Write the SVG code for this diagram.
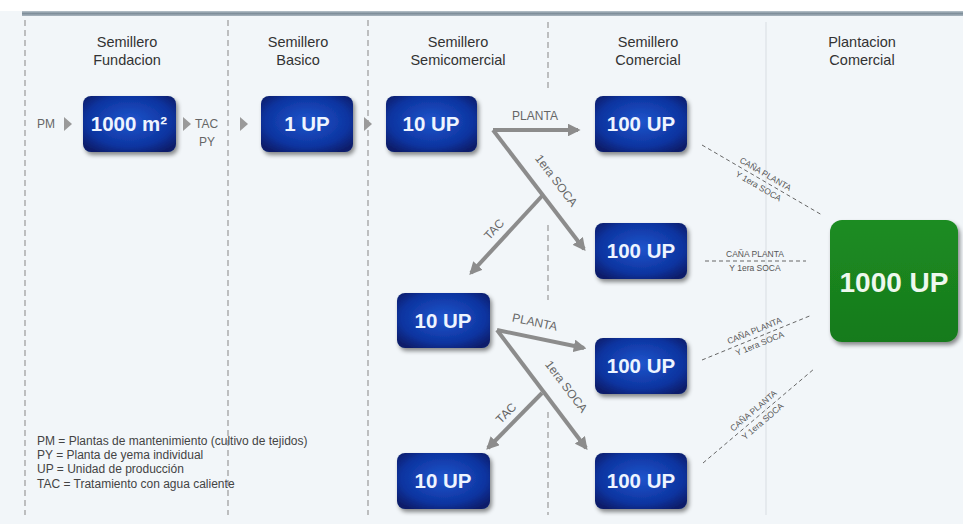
<svg xmlns="http://www.w3.org/2000/svg" width="963" height="524" viewBox="0 0 963 524">
<defs>
<radialGradient id="bg" cx="50%" cy="45%" r="65%">
<stop offset="0" stop-color="#1f55cc"/>
<stop offset="0.7" stop-color="#0d34a0"/>
<stop offset="1" stop-color="#081d6a"/>
</radialGradient>
<linearGradient id="gg" x1="0" y1="0" x2="0" y2="1">
<stop offset="0" stop-color="#1c8c22"/>
<stop offset="1" stop-color="#177a1c"/>
</linearGradient>
<linearGradient id="band" x1="0" y1="0" x2="0" y2="1">
<stop offset="0" stop-color="#b9c4cc"/>
<stop offset="0.5" stop-color="#7f8f9b"/>
<stop offset="1" stop-color="#aab6bf"/>
</linearGradient>
<filter id="sh" x="-20%" y="-20%" width="150%" height="160%">
<feDropShadow dx="2" dy="3" stdDeviation="2" flood-color="#000" flood-opacity="0.45"/>
</filter>
<marker id="ah" viewBox="0 0 10 10" refX="8" refY="5" markerWidth="3.2" markerHeight="3.2" orient="auto">
<path d="M0,0 L10,5 L0,10 z" fill="#8c8c8c"/>
</marker>
</defs>
<style>
.hdr{font-family:"Liberation Sans",Arial,sans-serif;font-size:14.5px;fill:#333;text-anchor:middle}
.box{fill:url(#bg);filter:url(#sh)}
.bt{font-family:"Liberation Sans",Arial,sans-serif;font-weight:bold;font-size:20.5px;fill:#eef4ff;text-anchor:middle}
.sm{font-family:"Liberation Sans",Arial,sans-serif;font-size:12px;fill:#666}
.al{font-family:"Liberation Sans",Arial,sans-serif;font-size:12px;fill:#666;text-anchor:middle}
.dl{font-family:"Liberation Sans",Arial,sans-serif;font-size:8.5px;fill:#555;text-anchor:middle}
.leg{font-family:"Liberation Sans",Arial,sans-serif;font-size:12px;fill:#444}
.arr{stroke:#8c8c8c;stroke-width:4;fill:none;marker-end:url(#ah)}
.tri{fill:#9a9a9a}
.dash{stroke:#666;stroke-width:1;stroke-dasharray:4 3;fill:none}
.col{stroke:#999;stroke-width:1.2;stroke-dasharray:6 4;fill:none}
</style>
<rect x="0" y="0" width="963" height="524" fill="#f2f6f9"/>
<rect x="0" y="0" width="963" height="11" fill="#ffffff"/>
<rect x="22" y="11" width="941" height="5" fill="url(#band)"/>
<g id="columns">
<line class="col" x1="25" y1="20" x2="25" y2="515"/>
<line class="col" x1="228" y1="20" x2="228" y2="515"/>
<line class="col" x1="368" y1="20" x2="368" y2="515" stroke="#777"/>
<line class="col" x1="548" y1="22" x2="548" y2="88"/>
<line class="col" x1="548" y1="225" x2="548" y2="300"/>
<line class="col" x1="548" y1="412" x2="548" y2="515"/>
<line x1="766" y1="22" x2="766" y2="515" stroke="#d8dde2" stroke-width="1"/>
</g>
<g id="headers">
<text class="hdr" x="127" y="47">Semillero</text>
<text class="hdr" x="127" y="65">Fundacion</text>
<text class="hdr" x="298" y="47">Semillero</text>
<text class="hdr" x="298" y="65">Basico</text>
<text class="hdr" x="458" y="47">Semillero</text>
<text class="hdr" x="458" y="65">Semicomercial</text>
<text class="hdr" x="648" y="47">Semillero</text>
<text class="hdr" x="648" y="65">Comercial</text>
<text class="hdr" x="862" y="47">Plantacion</text>
<text class="hdr" x="862" y="65">Comercial</text>
</g>
<g id="connectors">
<text class="sm" x="37" y="128">PM</text>
<polygon class="tri" points="64,117 72,124 64,131"/>
<polygon class="tri" points="183,117 191,124 183,131"/>
<text class="sm" x="195" y="128">TAC</text>
<text class="sm" x="199" y="146">PY</text>
<polygon class="tri" points="240,117 248,124 240,131"/>
<polygon class="tri" points="364,117 372,124 364,131"/>
<path class="arr" d="M493,130 L578,130"/>
<path class="arr" d="M493,130 L584,249"/>
<path class="arr" d="M542,196 L471,273"/>
<text class="al" x="535" y="120">PLANTA</text>
<text class="al" transform="translate(553,183) rotate(53)">1era SOCA</text>
<text class="al" transform="translate(497,232) rotate(-47)">TAC</text>
<path class="arr" d="M497,330 L584,348"/>
<path class="arr" d="M497,330 L586,448"/>
<path class="arr" d="M542,393 L488,448"/>
<text class="al" transform="translate(534,326) rotate(12)">PLANTA</text>
<text class="al" transform="translate(563,389) rotate(53)">1era SOCA</text>
<text class="al" transform="translate(509,416) rotate(-45)">TAC</text>
<path class="dash" d="M702,145 L822,215"/>
<g transform="translate(762,180) rotate(30.3)"><text class="dl" y="-4">CAÑA PLANTA</text><text class="dl" y="10">Y 1era SOCA</text></g>
<path class="dash" d="M705,261 L806,261"/>
<g transform="translate(755,261)"><text class="dl" y="-4">CAÑA PLANTA</text><text class="dl" y="10">Y 1era SOCA</text></g>
<path class="dash" d="M702,360 L812,315"/>
<g transform="translate(757,337) rotate(-22.2)"><text class="dl" y="-4">CAÑA PLANTA</text><text class="dl" y="10">Y 1era SOCA</text></g>
<path class="dash" d="M703,463 L814,369"/>
<g transform="translate(758,416) rotate(-40.5)"><text class="dl" y="-4">CAÑA PLANTA</text><text class="dl" y="10">Y 1era SOCA</text></g>
</g>
<g id="n1000m2"><rect class="box" x="83" y="96" width="93" height="56" rx="8"/><text class="bt" x="129" y="131">1000 m²</text></g>
<g id="n1up"><rect class="box" x="261" y="96" width="92" height="56" rx="8"/><text class="bt" x="307" y="131">1 UP</text></g>
<g id="n10up_a"><rect class="box" x="386" y="96" width="91" height="56" rx="8"/><text class="bt" x="431" y="131">10 UP</text></g>
<g id="n100up_a"><rect class="box" x="595" y="96" width="92" height="56" rx="8"/><text class="bt" x="641" y="131">100 UP</text></g>
<g id="n100up_b"><rect class="box" x="595" y="223" width="92" height="56" rx="8"/><text class="bt" x="641" y="258">100 UP</text></g>
<g id="n10up_b"><rect class="box" x="397" y="293" width="93" height="55" rx="8"/><text class="bt" x="443" y="328">10 UP</text></g>
<g id="n100up_c"><rect class="box" x="595" y="338" width="92" height="56" rx="8"/><text class="bt" x="641" y="373">100 UP</text></g>
<g id="n10up_c"><rect class="box" x="397" y="453" width="93" height="56" rx="8"/><text class="bt" x="443" y="488">10 UP</text></g>
<g id="n100up_d"><rect class="box" x="595" y="453" width="92" height="56" rx="8"/><text class="bt" x="641" y="488">100 UP</text></g>
<g id="n1000up"><rect x="830" y="220" width="128" height="122" rx="12" fill="url(#gg)" filter="url(#sh)"/><text x="894" y="292" font-family="'Liberation Sans',Arial,sans-serif" font-weight="bold" font-size="28" fill="#eef8ee" text-anchor="middle">1000 UP</text></g>
<g id="legend">
<text class="leg" x="37" y="445">PM = Plantas de mantenimiento (cultivo de tejidos)</text>
<text class="leg" x="37" y="459">PY = Planta de yema individual</text>
<text class="leg" x="37" y="473">UP = Unidad de producción</text>
<text class="leg" x="37" y="488">TAC = Tratamiento con agua caliente</text>
</g>
</svg>
